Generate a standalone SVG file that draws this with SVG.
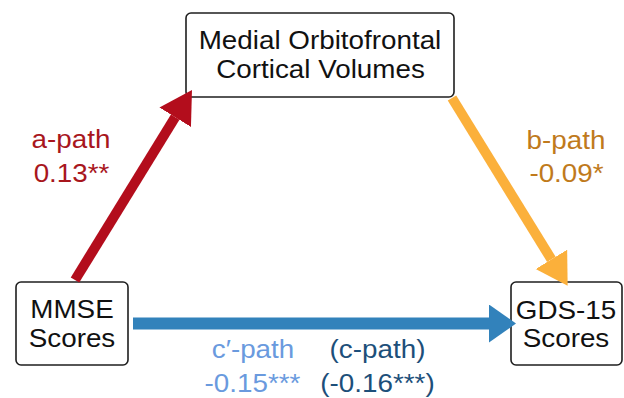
<svg xmlns="http://www.w3.org/2000/svg" width="624" height="398" viewBox="0 0 624 398">
  <style>
    .box { fill: #ffffff; stroke: #1f1f1f; stroke-width: 1.6; }
    .lbl { font-family: "Liberation Sans", Arial, sans-serif; font-size: 26px; text-anchor: middle; }
    .node { fill: #111111; }
    .apath { fill: #a8161d; }
    .bpath { fill: #c07a1c; }
    .cprime { fill: #6a9ade; }
    .cpath { fill: #1d4f7a; }
    .edge { fill: none; stroke-linecap: butt; }
  </style>
  <defs>
    <marker id="headRed" markerUnits="userSpaceOnUse" markerWidth="34" markerHeight="38" refX="0" refY="18.5" orient="auto">
      <path d="M0,0 L32,18.5 L0,37 Z" fill="#b30d1c"/>
    </marker>
    <marker id="headOrange" markerUnits="userSpaceOnUse" markerWidth="34" markerHeight="38" refX="0" refY="18.5" orient="auto">
      <path d="M0,0 L31,18.5 L0,37 Z" fill="#fbb03b"/>
    </marker>
    <marker id="headBlue" markerUnits="userSpaceOnUse" markerWidth="30" markerHeight="40" refX="0" refY="19" orient="auto">
      <path d="M0,0 L27,19 L0,38 Z" fill="#3282bb"/>
    </marker>
  </defs>

  <!-- nodes -->
  <g id="node-mofc">
    <rect class="box" x="186" y="13" width="268" height="84" rx="5"/>
    <text class="lbl node" transform="translate(320,49) scale(1.07,1)">Medial Orbitofrontal</text>
    <text class="lbl node" transform="translate(320.5,78) scale(1.07,1)">Cortical Volumes</text>
  </g>
  <g id="node-mmse">
    <rect class="box" x="16" y="282" width="112" height="83" rx="5"/>
    <text class="lbl node" transform="translate(72,317.5) scale(1.07,1)">MMSE</text>
    <text class="lbl node" transform="translate(72,346.5) scale(1.07,1)">Scores</text>
  </g>
  <g id="node-gds">
    <rect class="box" x="511" y="282" width="111" height="83" rx="5"/>
    <text class="lbl node" transform="translate(566,318.5) scale(1.07,1)">GDS-15</text>
    <text class="lbl node" transform="translate(566,347) scale(1.07,1)">Scores</text>
  </g>

  <!-- connectors -->
  <g id="connectors">
    <line class="edge" x1="75" y1="280" x2="175.2" y2="117.2" stroke="#b30d1c" stroke-width="10" marker-end="url(#headRed)"/>
    <line class="edge" x1="452" y1="98" x2="551.4" y2="259.4" stroke="#fbb03b" stroke-width="10" marker-end="url(#headOrange)"/>
    <line class="edge" x1="133" y1="323.5" x2="489" y2="323.5" stroke="#3282bb" stroke-width="12" marker-end="url(#headBlue)"/>
  </g>

  <!-- path labels -->
  <g id="labels">
    <text class="lbl apath" transform="translate(71,148) scale(1.07,1)">a-path</text>
    <text class="lbl apath" transform="translate(71.5,182) scale(1.07,1)">0.13**</text>
    <text class="lbl bpath" transform="translate(566,148.5) scale(1.07,1)">b-path</text>
    <text class="lbl bpath" transform="translate(566.5,182) scale(1.07,1)">-0.09*</text>
    <text class="lbl cprime" transform="translate(253,357.5) scale(1.07,1)">c′-path</text>
    <text class="lbl cprime" transform="translate(252.5,391.5) scale(1.07,1)">-0.15***</text>
    <text class="lbl cpath" transform="translate(377.5,357.5) scale(1.07,1)">(c-path)</text>
    <text class="lbl cpath" transform="translate(377.5,391.5) scale(1.07,1)">(-0.16***)</text>
  </g>
</svg>
